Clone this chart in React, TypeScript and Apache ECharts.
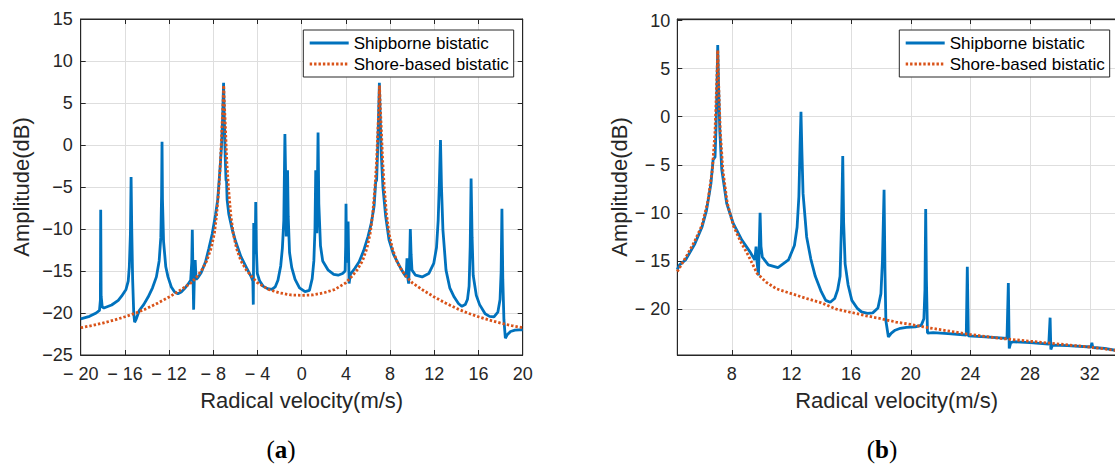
import React, { useEffect, useRef } from "react";
import * as echarts from "echarts";

// ---------- data ----------
const seriesNames = ["Shipborne bistatic", "Shore-based bistatic"];
const xAxisTitle = "Radical velocity(m/s)";
const yAxisTitle = "Amplitude(dB)";
const panelLabels = ["a", "b"];

// Panel (a) x / y ticks
const leftXRange = [-20, 20];
const leftXStep = 4;
const leftYRange = [-25, 15];
const leftYStep = 5;

// Panel (b) x / y ticks
const rightXRange = [4.35, 33.75];
const rightXTicks = [8, 12, 16, 20, 24, 28, 32];
const rightYRange = [-24.78, 10.16];
const rightYTicks = [-20, -15, -10, -5, 0, 5, 10];

// Panel (a) shipborne bistatic
const shipLeft: [number, number][] = [
  [-20, -20.7], [-19.2, -20.4], [-18.6, -20.0], [-18.3, -19.7], [-18.22, -18.5], [-18.19, -7.7],
  [-18.15, -18.0], [-18.05, -19.3], [-17.9, -19.4], [-17.2, -19.05], [-16.6, -18.5], [-16.3, -18.0],
  [-15.9, -17.2], [-15.7, -16.2], [-15.6, -14.5], [-15.5, -10.5], [-15.44, -3.8], [-15.38, -10.0],
  [-15.3, -16.0], [-15.2, -20.0], [-15.12, -21.1], [-15.0, -20.8], [-14.7, -19.7], [-14.3, -19.0],
  [-13.9, -18.1], [-13.5, -17.0], [-13.15, -15.7], [-12.9, -13.8], [-12.75, -11.0], [-12.68, -6.0],
  [-12.64, 0.4], [-12.6, -6.5], [-12.5, -11.5], [-12.3, -14.5], [-12.1, -15.7], [-11.8, -16.9],
  [-11.5, -17.5], [-11.2, -17.7], [-10.9, -17.5], [-10.6, -17.1], [-10.3, -16.6], [-10.05, -16.1],
  [-9.95, -14.0], [-9.9, -10.1], [-9.85, -14.5], [-9.78, -19.6], [-9.72, -16.0], [-9.64, -13.7],
  [-9.56, -16.0], [-9.4, -15.8], [-9.1, -15.2], [-8.7, -13.9], [-8.4, -12.3], [-8.1, -10.6],
  [-7.8, -8.3], [-7.6, -6.5], [-7.4, -3.0], [-7.25, 0.0], [-7.15, 3.5], [-7.07, 7.4],
  [-7.0, 3.0], [-6.92, -1.5], [-6.85, -4.2], [-6.8, -4.3], [-6.75, -6.5], [-6.6, -8.2],
  [-6.3, -10.0], [-6.0, -11.4], [-5.5, -13.3], [-5.0, -14.6], [-4.6, -15.6], [-4.42, -16.2],
  [-4.38, -19.0], [-4.34, -9.3], [-4.28, -13.0], [-4.2, -11.5], [-4.16, -6.8], [-4.1, -12.5],
  [-4.02, -15.3], [-3.8, -16.2], [-3.5, -16.8], [-3.1, -17.1], [-2.7, -17.2], [-2.4, -16.9],
  [-2.15, -16.1], [-1.9, -14.4], [-1.75, -12.3], [-1.62, -9.0], [-1.52, 1.3], [-1.45, -4.0],
  [-1.4, -10.9], [-1.33, -5.5], [-1.28, -3.0], [-1.22, -8.5], [-1.1, -12.8], [-0.9, -14.6],
  [-0.6, -16.0], [-0.2, -17.0], [0.3, -17.45], [0.7, -17.3], [0.95, -15.9], [1.1, -13.8],
  [1.2, -10.1], [1.27, -3.0], [1.33, -8.5], [1.37, -10.5], [1.42, -5.0], [1.48, 1.5],
  [1.55, -7.0], [1.7, -12.0], [1.9, -13.8], [2.4, -14.9], [2.9, -15.4], [3.3, -15.5],
  [3.7, -15.3], [3.93, -15.0], [3.98, -12.0], [4.01, -7.0], [4.06, -13.0], [4.14, -14.0],
  [4.2, -9.1], [4.25, -13.5], [4.29, -16.5], [4.4, -15.4], [4.8, -14.7], [5.2, -13.9],
  [5.6, -12.6], [6.0, -10.9], [6.3, -9.3], [6.55, -7.3], [6.7, -4.4], [6.78, -4.2],
  [6.85, -1.5], [6.95, 3.0], [7.03, 7.4], [7.1, 3.5], [7.2, -1.0], [7.35, -5.0],
  [7.6, -8.5], [7.9, -11.3], [8.3, -13.0], [8.8, -14.3], [9.2, -15.2], [9.45, -15.7],
  [9.53, -13.5], [9.6, -15.8], [9.68, -16.5], [9.78, -13.0], [9.83, -10.0], [9.9, -13.0],
  [9.98, -14.9], [10.3, -15.5], [10.9, -15.7], [11.5, -15.3], [11.95, -14.1], [12.2, -12.2],
  [12.35, -9.0], [12.47, -4.0], [12.56, 0.6], [12.65, -5.0], [12.78, -10.1], [13.06, -14.9],
  [13.4, -17.0], [13.8, -18.1], [14.2, -18.9], [14.5, -19.2], [14.8, -19.0], [15.0, -18.4],
  [15.15, -16.8], [15.25, -12.0], [15.33, -4.0], [15.42, -11.0], [15.52, -15.5], [15.8, -17.9],
  [16.1, -19.0], [16.6, -20.1], [17.0, -20.4], [17.4, -20.45], [17.75, -19.9], [17.95, -18.4],
  [18.05, -15.0], [18.12, -7.6], [18.2, -16.0], [18.3, -20.8], [18.43, -23.0], [18.6, -22.6],
  [18.9, -22.2], [19.3, -22.05], [19.7, -22.0], [20, -22.0],
];

// Panel (a) shore-based bistatic
const shoreLeft: [number, number][] = [
  [-20, -21.75], [-19, -21.5], [-18, -21.2], [-17, -20.85], [-16, -20.45], [-15, -20.0],
  [-14, -19.45], [-13, -18.8], [-12, -18.1], [-11, -17.3], [-10, -16.4], [-9.5, -15.7],
  [-9.0, -14.8], [-8.6, -13.8], [-8.2, -12.3], [-7.9, -10.5], [-7.7, -8.3], [-7.5, -5.2],
  [-7.35, -2.0], [-7.22, 2.0], [-7.12, 5.0], [-7.06, 7.1], [-7.0, 5.0], [-6.9, 2.0],
  [-6.78, -2.0], [-6.62, -5.2], [-6.42, -8.3], [-6.2, -10.5], [-5.9, -12.3], [-5.5, -13.8],
  [-5.0, -14.9], [-4.5, -15.7], [-4.0, -16.4], [-3.0, -17.2], [-2.0, -17.6], [-1.0, -17.85],
  [0, -17.9], [1, -17.85], [2, -17.6], [3, -17.2], [4, -16.4], [4.5, -15.7],
  [5.0, -14.9], [5.5, -13.8], [5.9, -12.3], [6.2, -10.5], [6.42, -8.3], [6.62, -5.2],
  [6.78, -2.0], [6.9, 2.0], [7.0, 5.0], [7.04, 7.1], [7.1, 5.0], [7.2, 2.0],
  [7.33, -2.0], [7.48, -5.2], [7.68, -8.3], [7.9, -10.5], [8.2, -12.3], [8.6, -13.8],
  [9.0, -14.8], [9.5, -15.7], [10, -16.4], [11, -17.3], [12, -18.1], [13, -18.8],
  [14, -19.45], [15, -20.0], [16, -20.45], [17, -20.85], [18, -21.2], [19, -21.5],
  [20, -21.75],
];

// Panel (b) shipborne bistatic
const shipRight: [number, number][] = [
  [4.35, -15.9], [4.5, -15.4], [4.9, -14.9], [5.5, -13.3], [6.0, -11.5], [6.3, -9.8],
  [6.6, -7.0], [6.75, -4.5], [6.88, -4.2], [6.95, -1.0], [7.01, 3.0], [7.06, 7.45],
  [7.12, 3.0], [7.2, -1.5], [7.33, -5.5], [7.66, -9.0], [8.1, -11.1], [8.67, -12.8],
  [9.2, -14.0], [9.55, -14.9], [9.63, -13.5], [9.7, -15.2], [9.79, -16.5], [9.85, -13.0],
  [9.9, -10.0], [9.96, -13.5], [10.05, -14.6], [10.45, -15.4], [11.1, -15.7], [11.8, -14.9],
  [12.2, -13.4], [12.38, -11.5], [12.5, -8.3], [12.58, -3.0], [12.64, 0.5], [12.7, -3.5],
  [12.78, -8.0], [13.02, -12.5], [13.3, -14.8], [13.6, -16.6], [14.0, -18.2], [14.3, -19.1],
  [14.6, -19.3], [14.9, -18.9], [15.1, -18.0], [15.26, -16.6], [15.36, -11.0], [15.44, -4.1],
  [15.5, -11.0], [15.6, -15.3], [15.8, -17.5], [16.05, -19.1], [16.4, -19.9], [16.7, -20.3],
  [17.1, -20.45], [17.45, -20.4], [17.8, -19.9], [18.0, -18.4], [18.1, -15.0], [18.21, -7.6],
  [18.27, -16.0], [18.33, -21.2], [18.5, -22.9], [18.7, -22.5], [18.95, -22.2], [19.3, -22.0],
  [19.7, -21.9], [20.3, -21.85], [20.7, -21.7], [20.88, -21.0], [20.95, -18.0], [21.0, -9.6],
  [21.05, -17.0], [21.12, -22.5], [21.5, -22.45], [22.5, -22.55], [23.72, -22.7], [23.79, -15.6],
  [23.86, -22.8], [25.0, -22.9], [26.45, -23.05], [26.54, -17.3], [26.6, -24.1], [26.7, -23.5],
  [26.9, -23.4], [28.0, -23.5], [29.25, -23.65], [29.34, -20.9], [29.39, -24.2], [29.5, -23.75],
  [30.5, -23.8], [32.08, -23.95], [32.14, -23.5], [32.2, -24.0], [33.0, -24.1], [33.75, -24.3],
];

// Panel (b) shore-based bistatic
const shoreRight: [number, number][] = [
  [4.35, -16.1], [5.0, -14.4], [5.5, -13.0], [6.0, -11.3], [6.4, -8.8], [6.7, -5.5],
  [6.88, -1.5], [6.98, 3.0], [7.06, 6.9], [7.13, 3.0], [7.23, -1.5], [7.4, -5.5],
  [7.7, -9.0], [8.1, -11.3], [8.6, -13.0], [9.1, -14.4], [9.7, -16.3], [10.3, -17.2],
  [11.0, -17.9], [12.0, -18.4], [13.0, -18.9], [14.0, -19.35], [15.0, -20.0], [16.0, -20.35],
  [17.0, -20.7], [18.0, -21.0], [19.0, -21.35], [20.0, -21.6], [21.0, -21.9], [22.0, -22.15],
  [23.0, -22.4], [24.0, -22.65], [26.0, -23.05], [28.0, -23.35], [30.0, -23.65], [32.0, -23.95],
  [33.75, -24.3],
];

// ---------- styling ----------
const BLUE = "#0072BD";
const ORANGE = "#D95319";
const AXIS = "#262626";
const GRIDLINE = "#dedede";
const SANS = "'Liberation Sans', Arial, Helvetica, sans-serif";
const SERIF = "'Liberation Serif', 'DejaVu Serif', serif";
const LW = 2.8;

const fmtSpaced = (v: number) => (v < 0 ? "\u2212 " + Math.abs(v) : String(v));
const fmtTight = (v: number) => (v < 0 ? "\u2212" + Math.abs(v) : String(v));

function App() {
  const ref = useRef<HTMLDivElement>(null);

  useEffect(() => {
    if (!ref.current) return;
    const chart = echarts.init(ref.current, null, { renderer: "svg" });

    const tick = { show: true, inside: true, length: 5, lineStyle: { color: AXIS, width: 1 } };
    const line = { show: true, onZero: false, lineStyle: { color: AXIS, width: 1 } };
    const split = { show: true, lineStyle: { color: GRIDLINE, width: 1 } };
    const lbl = { color: AXIS, fontSize: 18, fontFamily: SANS };
    const nameStyle = { color: AXIS, fontSize: 22, fontFamily: SANS };

    const legendBase = {
      orient: "vertical",
      top: 30,
      itemWidth: 39,
      itemHeight: 12,
      itemGap: 3,
      padding: [4, 5, 4, 5],
      borderColor: AXIS,
      borderWidth: 1,
      backgroundColor: "#ffffff",
      selectedMode: false,
      data: seriesNames,
      itemStyle: { opacity: 0 },
      lineStyle: { width: LW },
      textStyle: { fontSize: 17, fontFamily: SANS, color: "#000", lineHeight: 18 },
    };

    const panelLabel = (x: number, letter: string) => ({
      type: "text", x, y: 449,
      style: {
        text: "({b|" + letter + "})",
        fontFamily: SERIF, fontSize: 25, fill: "#000",
        align: "center", verticalAlign: "middle",
        rich: { b: { fontWeight: "bold", fontFamily: SERIF, fontSize: 25, fill: "#000" } },
      },
    });

    const option: any = {
      animation: false,
      backgroundColor: "#ffffff",
      grid: [
        { left: 80.7, top: 19, width: 442, height: 336, show: true, borderColor: AXIS, borderWidth: 1, outerBoundsMode: "none", containLabel: false },
        { left: 677.3, top: 19, width: 438.6, height: 336, show: true, borderColor: AXIS, borderWidth: 1, outerBoundsMode: "none", containLabel: false },
      ],
      xAxis: [
        {
          type: "value", gridIndex: 0, position: "bottom",
          min: leftXRange[0], max: leftXRange[1], interval: leftXStep,
          axisLine: line, axisTick: tick, splitLine: split,
          axisLabel: { ...lbl, margin: 10, formatter: fmtSpaced },
          name: xAxisTitle, nameLocation: "middle", nameGap: 34, nameTextStyle: nameStyle, nameMoveOverlap: false,
        },
        {
          type: "value", gridIndex: 0, position: "top",
          min: leftXRange[0], max: leftXRange[1], interval: leftXStep,
          axisLine: line, axisTick: tick, splitLine: { show: false }, axisLabel: { show: false },
        },
        {
          type: "value", gridIndex: 1, position: "bottom",
          min: rightXRange[0], max: rightXRange[1],
          axisLine: line,
          axisTick: { ...tick, customValues: rightXTicks },
          splitLine: split,
          axisLabel: { ...lbl, margin: 10, customValues: rightXTicks, formatter: fmtSpaced },
          name: xAxisTitle, nameLocation: "middle", nameGap: 34, nameTextStyle: nameStyle, nameMoveOverlap: false,
        },
        {
          type: "value", gridIndex: 1, position: "top",
          min: rightXRange[0], max: rightXRange[1],
          axisLine: line,
          axisTick: { ...tick, customValues: rightXTicks },
          splitLine: { show: false },
          axisLabel: { show: false, customValues: rightXTicks },
        },
      ],
      yAxis: [
        {
          type: "value", gridIndex: 0, position: "left",
          min: leftYRange[0], max: leftYRange[1], interval: leftYStep,
          axisLine: line, axisTick: tick, splitLine: split,
          axisLabel: { ...lbl, margin: 8, formatter: fmtTight },
          name: yAxisTitle, nameLocation: "middle", nameGap: 48, nameTextStyle: nameStyle, nameMoveOverlap: false,
        },
        {
          type: "value", gridIndex: 0, position: "right",
          min: leftYRange[0], max: leftYRange[1], interval: leftYStep,
          axisLine: line, axisTick: tick, splitLine: { show: false }, axisLabel: { show: false },
        },
        {
          type: "value", gridIndex: 1, position: "left",
          min: rightYRange[0], max: rightYRange[1],
          axisLine: line,
          axisTick: { ...tick, customValues: rightYTicks },
          splitLine: split,
          axisLabel: { ...lbl, margin: 7, customValues: rightYTicks, formatter: fmtSpaced },
          name: yAxisTitle, nameLocation: "middle", nameGap: 47, nameTextStyle: nameStyle, nameMoveOverlap: false,
        },
      ],
      legend: [
        { ...legendBase, left: 303.3 },
        { ...legendBase, left: 899.3 },
      ],
      series: [
        {
          name: seriesNames[0], type: "line", xAxisIndex: 0, yAxisIndex: 0, data: shipLeft,
          symbol: "none", showSymbol: false, lineStyle: { color: BLUE, width: LW }, itemStyle: { color: BLUE }, z: 2,
        },
        {
          name: seriesNames[1], type: "line", xAxisIndex: 0, yAxisIndex: 0, data: shoreLeft,
          symbol: "none", showSymbol: false, lineStyle: { color: ORANGE, width: LW, type: [2.4, 2] }, itemStyle: { color: ORANGE }, z: 3,
        },
        {
          name: seriesNames[0], type: "line", xAxisIndex: 2, yAxisIndex: 2, data: shipRight,
          symbol: "none", showSymbol: false, lineStyle: { color: BLUE, width: LW }, itemStyle: { color: BLUE }, z: 2,
        },
        {
          name: seriesNames[1], type: "line", xAxisIndex: 2, yAxisIndex: 2, data: shoreRight,
          symbol: "none", showSymbol: false, lineStyle: { color: ORANGE, width: LW, type: [2.4, 2] }, itemStyle: { color: ORANGE }, z: 3,
        },
      ],
      graphic: [panelLabel(281, panelLabels[0]), panelLabel(882, panelLabels[1])],
    };

    chart.setOption(option);
    return () => chart.dispose();
  }, []);

  return (
    <div
      ref={ref}
      style={{ position: "fixed", left: 0, top: 0, width: 1115, height: 467, background: "#fff", overflow: "hidden" }}
    />
  );
}

export default App;
